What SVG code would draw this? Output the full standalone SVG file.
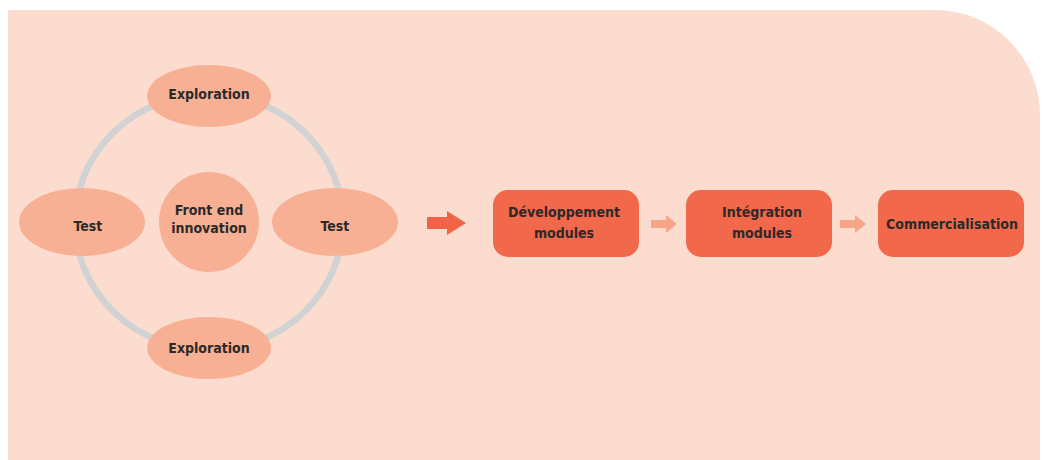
<svg xmlns="http://www.w3.org/2000/svg" width="1043" height="460" viewBox="0 0 1043 460">
<defs>
<style>
.bg{fill:#fcdcce}
.ell{fill:#f8b094}
.box{fill:#f1684a}
.ring{fill:none;stroke:#d0d2d3;stroke-width:6.5}
.t{font-family:"DejaVu Sans Condensed","DejaVu Sans",sans-serif;font-weight:bold;font-size:14px;fill:#2b2a2a;text-anchor:middle}
.big{fill:#ef6446}
.small{fill:#f7a587}
</style>
</defs>
<rect width="1043" height="460" fill="#ffffff"/>
<path class="bg" d="M8 10 H935 A105 105 0 0 1 1040 115 V460 H8 Z"/>
<g id="connectors">
<ellipse class="ring" cx="209" cy="222" rx="134" ry="128"/>
<polygon class="big" points="427,217 447,217 447,211 466,223 447,235 447,229 427,229"/>
<polygon class="small" points="651,220 666,220 666,215 677,224 666,233 666,228 651,228"/>
<polygon class="small" points="840,220 855,220 855,215 866,224 855,233 855,228 840,228"/>
</g>
<g id="exploration-top"><ellipse class="ell" cx="209" cy="96" rx="62" ry="31"/><text class="t" x="209" y="99">Exploration</text></g>
<g id="exploration-bottom"><ellipse class="ell" cx="209" cy="348" rx="62" ry="31"/><text class="t" x="209" y="353">Exploration</text></g>
<g id="test-left"><ellipse class="ell" cx="82" cy="222" rx="63" ry="34"/><text class="t" x="88" y="231">Test</text></g>
<g id="test-right"><ellipse class="ell" cx="335" cy="222" rx="63" ry="34"/><text class="t" x="335" y="231">Test</text></g>
<g id="front-end"><circle class="ell" cx="209" cy="222" r="50"/><text class="t" x="209" y="215">Front end</text><text class="t" x="209" y="233">innovation</text></g>
<g id="developpement"><rect class="box" x="493" y="190" width="146" height="67" rx="15"/><text class="t" x="564" y="217">Développement</text><text class="t" x="564" y="238">modules</text></g>
<g id="integration"><rect class="box" x="686" y="190" width="146" height="67" rx="15"/><text class="t" x="762" y="217">Intégration</text><text class="t" x="762" y="238">modules</text></g>
<g id="commercialisation"><rect class="box" x="878" y="190" width="146" height="67" rx="15"/><text class="t" x="952" y="229">Commercialisation</text></g>
</svg>
